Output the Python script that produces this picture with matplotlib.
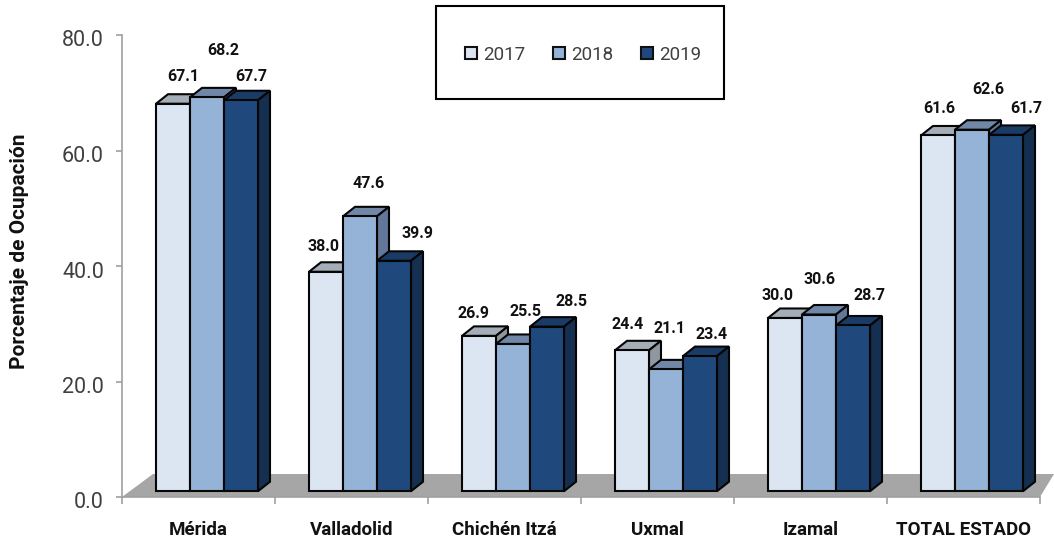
import matplotlib
matplotlib.use("Agg")
import matplotlib.pyplot as plt
from matplotlib.patches import Polygon, Rectangle, Patch
from matplotlib.ticker import FixedLocator, NullFormatter
from matplotlib.transforms import ScaledTranslation

categories = ["Mérida", "Valladolid", "Chichén Itzá", "Uxmal", "Izamal", "TOTAL ESTADO"]
years = ["2017", "2018", "2019"]
v2017 = [67.1, 38.0, 26.9, 24.4, 30.0, 61.6]
v2018 = [68.2, 47.6, 25.5, 21.1, 30.6, 62.6]
v2019 = [67.7, 39.9, 28.5, 23.4, 28.7, 61.7]
series = [v2017, v2018, v2019]

# styling
front = ["#dce6f2", "#95b3d7", "#1f497d"]
top = ["#a5adb6", "#7087a8", "#1a3b66"]
side = ["#8f979f", "#62779a", "#152f50"]
W, H = 1054, 537
L, R, T, B = 122, 1040, 35, 497
FONT = "Roboto"
# hand-placed label offsets (px right, px up) from each bar's front top
label_off = [
    [(10, 27), (16, 46.5), (10, 23.5)],
    [(-3, 25), (9, 33), (24, 27)],
    [(-5, 22), (12, 32), (25, 25)],
    [(-4, 25.5), (4, 41), (12, 21.5)],
    [(-7, 22), (1, 35), (16, 30)],
    [(1, 27), (16, 40), (20, 26)],
]

fig = plt.figure(figsize=(W / 100, H / 100), dpi=100, facecolor="white")
ax = fig.add_axes([L / W, 1 - B / H, (R - L) / W, (B - T) / H])
ax.set_xlim(0, len(categories))
ax.set_ylim(0, 80)

ux = (R - L) / len(categories)       # px per category
uy = (B - T) / 80                    # px per unit
ddx, ddy = 12 / ux, 9.5 / uy         # bar depth
base = 1.0                           # front plane lift
bw = 34 / ux

# floor
ax.add_patch(Polygon([(0, 0), (31 / ux, 23 / uy), (len(categories) + 14 / ux, 23 / uy),
                      (len(categories), 0)], closed=True, facecolor="#a6a6a6",
                     edgecolor="none", clip_on=False, zorder=1))

z = 3
edge = dict(edgecolor="#050505", linewidth=1.5, joinstyle="miter")
for i in range(len(categories)):
    for j, vals in enumerate(series):
        x0 = i + 34 / ux + j * bw
        h = vals[i] + base
        ax.add_patch(Polygon([(x0, h), (x0 + ddx, h + ddy), (x0 + bw + ddx, h + ddy), (x0 + bw, h)],
                             closed=True, facecolor=top[j], clip_on=False, zorder=z, **edge))
        ax.add_patch(Polygon([(x0 + bw, base), (x0 + bw + ddx, base + ddy), (x0 + bw + ddx, h + ddy), (x0 + bw, h)],
                             closed=True, facecolor=side[j], clip_on=False, zorder=z, **edge))
        ax.bar(x0, vals[i], width=bw, bottom=base, align="edge", color=front[j], zorder=z + 1, **edge)
        z += 2
        ox, oy = label_off[i][j]
        ax.annotate(f"{vals[i]:.1f}", xy=(x0 + bw / 2, h), xytext=(ox * 0.72, oy * 0.72),
                    textcoords="offset points", ha="center", va="center",
                    fontsize=11.5, fontweight="bold", family=FONT, color="#111111",
                    annotation_clip=False, zorder=500)

for s in ("top", "right"):
    ax.spines[s].set_visible(False)
for s in ("left", "bottom"):
    ax.spines[s].set_color("#a0a0a0")
    ax.spines[s].set_linewidth(1.2)

ax.set_yticks([0, 20, 40, 60, 80])
ax.set_yticklabels([f"{v:.1f}" for v in [0, 20, 40, 60, 80]], family=FONT, fontsize=15.5, color="#404040")
ax.tick_params(axis="y", length=4.5, width=1.2, color="#a0a0a0", pad=8.5)
shift = ScaledTranslation(0, -3.5 / 100, fig.dpi_scale_trans)
for t in ax.get_yticklabels():
    t.set_transform(t.get_transform() + shift)
ax.xaxis.set_major_locator(FixedLocator(range(len(categories) + 1)))
ax.xaxis.set_major_formatter(NullFormatter())
ax.tick_params(axis="x", which="major", length=5, width=1.2, color="#a0a0a0")
ax.set_xticks([i + 0.5 for i in range(len(categories))], minor=True)
ax.set_xticklabels(categories, minor=True, family=FONT, fontweight="bold", fontsize=13.5, color="#111111")
ax.tick_params(axis="x", which="minor", length=0, pad=17)
ax.set_ylabel("Porcentaje de Ocupación", family=FONT, fontweight="bold", fontsize=15, color="#111111")
ax.yaxis.set_label_coords((29.5 - L) / (R - L), (B - 251) / (B - T))

# legend box
fig.add_artist(Rectangle((436 / W, 1 - 99 / H), 288 / W, 93 / H, transform=fig.transFigure,
                         facecolor="white", edgecolor="black", linewidth=1.5))
handles = [Patch(facecolor=front[j], edgecolor="#111111", linewidth=1.5) for j in range(3)]
leg = fig.legend(handles, years, ncol=3, loc="center", bbox_to_anchor=(583 / W, 1 - 54.5 / H),
                 frameon=False, prop={"family": FONT, "size": 13.5}, labelcolor="#404040",
                 handlelength=0.65, handleheight=0.65, handletextpad=0.3, columnspacing=1.5,
                 borderpad=0, borderaxespad=0)

fig.savefig("out.png", dpi=100, facecolor="white")
